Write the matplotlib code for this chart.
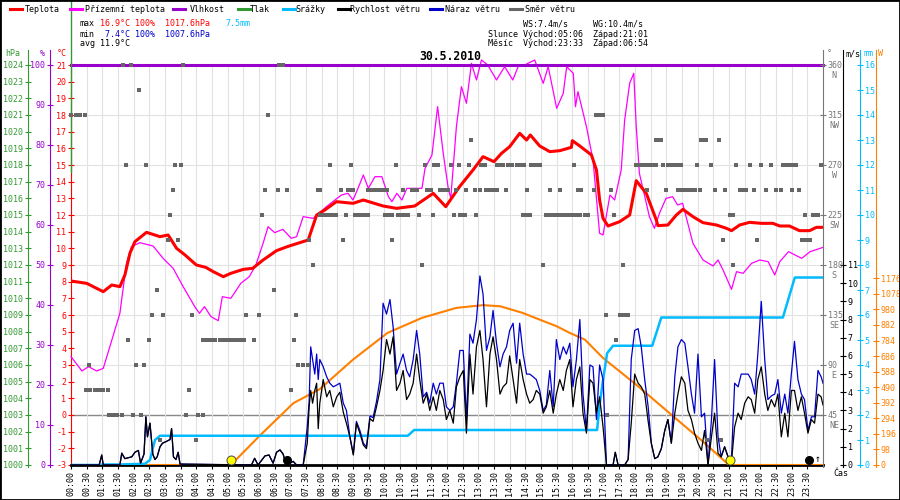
import numpy as np
import matplotlib
matplotlib.use("Agg")
import matplotlib.pyplot as plt
from matplotlib.lines import Line2D
from matplotlib.patches import Rectangle
import matplotlib.transforms as mtransforms

plt.rcParams['font.family'] = ['DejaVu Sans Mono']
plt.rcParams['font.size'] = 6
plt.rcParams['axes.unicode_minus'] = False

# ---------------- data (hours of the day) ----------------
temp_t = [0, 0.5, 1.03, 1.3, 1.56, 1.72, 1.88, 2.04, 2.41, 2.84, 3.1, 3.37, 3.64, 4.0, 4.3,
          4.54, 4.86, 5.1, 5.5, 5.8, 6.13, 6.56, 6.9, 7.3, 7.57, 7.84, 8.1, 8.47, 9.0, 9.33,
          9.96, 10.39, 10.97, 11.56, 11.96, 12.4, 12.83, 13.15, 13.5, 13.74, 14.0, 14.32,
          14.54, 14.66, 14.96, 15.28, 15.6, 15.97, 16.0, 16.24, 16.61, 16.77, 16.87, 16.98,
          17.14, 17.51, 17.83, 18.04, 18.36, 18.68, 18.73, 19.05, 19.32, 19.53, 19.85, 20.17,
          20.6, 20.92, 21.08, 21.34, 21.66, 22.03, 22.4, 22.62, 22.93, 23.25, 23.57, 23.79, 24.0]
temp_v = [8.04, 7.9, 7.4, 7.8, 7.7, 8.4, 9.7, 10.4, 10.96, 10.7, 10.8, 10.0, 9.6, 9.0, 8.86,
          8.6, 8.3, 8.5, 8.74, 8.8, 9.3, 9.86, 10.1, 10.34, 10.5, 12.0, 12.3, 12.8, 12.7, 12.9,
          12.54, 12.4, 12.54, 13.3, 12.5, 13.7, 14.7, 15.5, 15.2, 15.7, 16.1, 16.9,
          16.5, 16.8, 16.14, 15.8, 15.86, 16.06, 16.46, 16.14, 15.6, 14.7, 12.9, 11.8,
          11.34, 11.6, 12.0, 14.06, 13.3, 11.7, 11.36, 11.4, 12.0, 12.34, 11.9, 11.54,
          11.4, 11.2, 11.06, 11.4, 11.56, 11.5, 11.5, 11.34, 11.34, 11.06, 11.06, 11.26, 11.26]

feel_t = [0, 0.35, 0.56, 0.82, 1.03, 1.24, 1.56, 1.77, 1.93, 2.2, 2.62, 2.94, 3.26, 3.58, 3.95,
          4.1, 4.26, 4.47, 4.7, 4.83, 5.1, 5.42, 5.69, 5.9, 6.13, 6.29, 6.5, 6.76, 7.03, 7.2,
          7.41, 7.73, 7.94, 8.15, 8.63, 8.84, 9.0, 9.16, 9.33, 9.49, 9.7, 9.92, 10.13, 10.24,
          10.4, 10.56, 10.72, 10.98, 11.2, 11.3, 11.52, 11.7, 11.88, 12.04, 12.12, 12.3, 12.46,
          12.62, 12.78, 12.94, 13.1, 13.3, 13.58, 13.84, 14.1, 14.27, 14.48, 14.8, 15.07, 15.23,
          15.5, 15.71, 15.82, 16.03, 16.1, 16.18, 16.45, 16.66, 16.87, 16.98, 17.2, 17.35, 17.56,
          17.67, 17.83, 17.96, 18.04, 18.14, 18.46, 18.62, 18.78, 18.99, 19.2, 19.36, 19.52,
          19.85, 20.17, 20.49, 20.65, 20.81, 21.08, 21.24, 21.45, 21.72, 21.98, 22.25, 22.46,
          22.62, 22.9, 23.32, 23.59, 23.91, 24.0]
feel_v = [3.5, 2.64, 2.9, 2.64, 2.8, 4.1, 6.1, 9.1, 10.1, 10.34, 10.14, 9.4, 8.8, 7.7, 6.5,
          6.1, 6.5, 5.9, 5.66, 7.1, 7.0, 7.9, 8.3, 9.0, 10.3, 11.3, 10.94, 11.14, 10.6, 10.7,
          11.9, 11.8, 12.14, 12.5, 13.2, 13.3, 12.9, 13.6, 14.4, 13.6, 14.3, 14.3, 13.1, 12.8,
          13.3, 12.9, 13.6, 13.6, 13.6, 14.8, 15.6, 18.5, 15.7, 13.6, 13.0, 17.3, 19.7,
          18.7, 21.1, 20.1, 21.3, 21.0, 20.1, 20.9, 20.1, 20.9, 21.0, 21.3, 19.9, 20.9,
          18.4, 19.3, 20.9, 20.5, 18.5, 19.4, 17.3, 15.3, 10.9, 10.8, 13.2, 12.9, 14.7,
          17.7, 19.9, 20.5, 17.3, 14.5, 11.9, 11.2, 12.1, 13.0, 13.1, 12.6, 12.7,
          10.3, 9.3, 8.94, 9.3, 8.7, 7.54, 8.6, 8.5, 9.1, 9.3, 9.2, 8.4,
          9.2, 9.8, 9.4, 9.8, 10.0, 10.06]

humid_t = [0, 24]
humid_v = [100, 100]

press_max = 1017.6
press_min = 1007.6

rain_t = [0, 0.95, 1.0, 1.56, 2.36, 2.52, 2.68, 2.84, 10.75, 10.95, 16.79, 16.87, 16.98,
          17.11, 17.3, 18.55, 18.84, 22.72, 23.1, 24.0]
rain_v = [0, 0, 0.02, 0.02, 0.05, 0.2, 1.0, 1.17, 1.17, 1.4, 1.4, 2.4, 3.4,
          4.47, 4.77, 4.77, 5.9, 5.9, 7.5, 7.5]

sun_t = [0, 5.1, 6.05, 7.1, 7.94, 9.0, 10.1, 11.2, 12.3, 13.15, 13.7, 14.4, 15.5, 15.92,
         16.4, 16.98, 18.04, 19.1, 20.17, 21.0, 24.0]
sun_v = [0, 0, 190, 390, 478, 664, 832, 927, 990, 1007, 1000, 959, 874, 832,
         790, 674, 506, 327, 147, 0, 0]

wind_t = [0.0, 0.9, 0.98, 1.03, 1.56, 1.62, 1.72, 1.94, 2.04, 2.15, 2.22, 2.33,
          2.39, 2.44, 2.52, 2.61, 2.68, 2.75, 2.84, 2.92, 3.05, 3.16, 3.21, 3.27, 3.35, 3.42,
          3.48, 5.76, 5.86, 5.97, 6.19, 6.32, 6.45, 6.56, 6.67, 6.77, 6.86, 6.99, 7.09, 7.2,
          7.41, 7.54, 7.6, 7.65, 7.71, 7.78, 7.84, 7.89,
          7.94, 8.05, 8.16, 8.26, 8.37, 8.48, 8.58, 8.69, 8.79, 8.90,
          9.01, 9.11, 9.22, 9.33, 9.43, 9.54, 9.64, 9.75, 9.86, 9.96,
          10.07, 10.18, 10.28, 10.39, 10.50, 10.60, 10.71, 10.81, 10.92, 11.03,
          11.13, 11.24, 11.35, 11.45, 11.56, 11.66, 11.77, 11.88, 11.98, 12.09,
          12.20, 12.30, 12.41, 12.52, 12.62, 12.73, 12.83, 12.94, 13.05, 13.15,
          13.26, 13.37, 13.47, 13.58, 13.69, 13.79, 13.90, 14.00, 14.11, 14.22,
          14.32, 14.43, 14.54, 14.64, 14.75, 14.85, 14.96, 15.07, 15.17, 15.28,
          15.39, 15.49, 15.60, 15.71, 15.81,
          15.92, 16.02, 16.13, 16.24, 16.34, 16.45, 16.56, 16.66, 16.77, 16.87, 16.98, 17.09,
          17.30, 17.37, 17.46, 17.67, 17.78, 17.88, 17.99, 18.10, 18.20, 18.31, 18.42, 18.52,
          18.63, 18.73, 18.84, 18.95, 19.05, 19.16, 19.27, 19.37, 19.48, 19.59, 19.69, 19.80,
          19.90, 20.01, 20.12, 20.22, 20.33, 20.44, 20.54, 20.65, 20.75, 20.86, 20.97, 21.07,
          21.18, 21.29, 21.39, 21.50, 21.61, 21.71, 21.82, 21.92, 22.03, 22.14, 22.24, 22.35,
          22.46, 22.56, 22.67, 22.78, 22.88, 22.99, 23.09, 23.20, 23.31, 23.41, 23.52, 23.63,
          23.73, 23.84, 23.94, 24.0]
wind_speed = [0, 0, 0.55, 0, 0, 0.65, 0.35, 0.45, 0.7, 0.8, 0.1, 0.6,
              2.65, 1.55, 2.3, 0.6, 0.3, 0.45, 1.0, 1.2, 1.3, 1.4, 2.0, 0.45, 0.3, 0.7,
              0.05, 0, 0.37, 0, 0.5, 0.55, 0.1, 0.7, 0.83, 0.6, 0.05, 0.1, 0.2, 0,
              0, 1.2, 3.2, 4.1, 3.4, 4.1, 4.5, 2.0,
              3.4, 4.7, 3.75, 4.1, 3.2, 3.75, 4.0, 2.9, 2.3, 1.55,
              0.55, 2.3, 1.75, 1.1, 0.9, 2.55, 2.4, 3.2, 4.1, 5.2,
              6.9, 6.1, 7.05, 4.1, 4.5, 5.2, 3.6, 3.9, 4.5, 6.1,
              4.7, 3.4, 3.9, 3.0, 3.75, 3.0, 4.1, 3.6, 2.5, 3.0,
              2.3, 4.3, 4.85, 5.2, 1.75, 6.1, 3.9, 6.5, 7.4, 5.8,
              3.2, 6.1, 7.05, 5.8, 3.9, 4.3, 4.5, 6.0, 4.7, 3.4,
              5.8, 4.7, 3.9, 3.4, 3.6, 4.1, 3.9, 2.85, 3.2, 4.1,
              2.85, 3.9, 4.7, 4.1, 5.2,
              5.8, 3.2, 4.7, 5.4, 2.85, 1.75, 4.7, 4.5, 2.85, 3.75, 2.1, 0,
              0, 0.7, 0, 0, 0.3, 2.3, 5.0, 4.5, 4.3, 3.9, 2.4, 1.2,
              0.35, 0.45, 0.9, 1.9, 2.5, 1.2, 2.85, 3.9, 4.85, 4.5, 3.0, 2.5,
              1.75, 1.2, 0.8, 1.9, 0, 1.55, 2.85, 0.65, 0.45, 1.0, 0.45, 0,
              2.1, 2.85, 2.5, 3.4, 3.75, 3.6, 2.85, 4.7, 5.4, 3.9, 3.0, 3.6,
              3.2, 3.9, 1.55, 2.85, 1.55, 4.1, 4.1, 3.0, 3.75, 2.85, 1.75, 2.5,
              2.3, 3.9, 3.75, 3.3]
wind_gust = [0, 0, 0.55, 0, 0, 0.65, 0.35, 0.45, 0.7, 0.8, 0.1, 0.6,
             2.65, 1.55, 2.3, 0.6, 0.3, 0.45, 1.0, 1.2, 1.3, 1.4, 2.0, 0.45, 0.3, 0.7,
             0.05, 0, 0.37, 0, 0.5, 0.55, 0.1, 0.7, 0.83, 0.6, 0.05, 0.1, 0.2, 0,
             0, 2.1, 3.5, 6.5, 5.8, 5.0, 6.1, 4.7,
             5.8, 5.4, 4.85, 4.5, 4.3, 4.4, 4.5, 3.4, 3.0, 1.55,
             0.6, 2.4, 1.9, 1.2, 1.0, 2.7, 2.6, 3.5, 4.7, 8.9,
             8.3, 9.1, 7.6, 5.0, 5.6, 6.1, 5.2, 4.85, 5.8, 7.4,
             6.1, 3.75, 4.0, 3.4, 4.5, 3.9, 4.5, 4.5, 3.2, 3.0,
             3.2, 4.5, 6.3, 6.3, 2.5, 7.2, 6.7, 8.0, 10.4, 9.4,
             6.3, 7.05, 8.5, 6.7, 5.4, 6.1, 6.5, 7.4, 7.8, 5.6,
             7.8, 6.1, 5.0, 5.0, 4.85, 4.7, 4.1, 3.0, 3.3, 5.2,
             3.2, 6.9, 5.8, 6.5, 6.1,
             6.7, 4.3, 5.8, 8.0, 3.9, 1.9, 5.5, 5.4, 2.5, 5.5, 4.7, 0,
             0, 0.7, 0, 0, 0.3, 5.8, 7.4, 7.5, 6.5, 4.7, 3.2, 1.2,
             0.35, 0.45, 0.9, 1.9, 2.5, 1.2, 4.85, 6.5, 6.9, 6.7, 5.4, 3.9,
             2.85, 6.1, 2.65, 2.85, 0, 2.5, 5.8, 1.55, 0.45, 1.0, 0.45, 0,
             4.5, 4.3, 5.0, 5.0, 5.0, 4.7, 3.9, 6.1, 9.0, 5.8, 3.6, 3.8,
             3.9, 4.7, 2.85, 3.9, 2.85, 5.0, 6.8, 4.7, 3.9, 3.6, 1.9, 2.65,
             2.65, 5.2, 4.85, 4.5]

# wind direction samples, hours per compass sector
dir_N = [1.65, 1.90, 3.56, 6.65, 6.78]
dir_NNW = [2.17]
dir_NW = [0.0, 0.15, 0.30, 0.45, 6.30, 16.77, 16.87, 16.98]
dir_WNW = [12.78, 18.68, 18.78, 18.84, 20.12, 20.20, 20.28, 20.67]
dir_W = [1.75, 2.40, 3.32, 3.51, 8.26, 8.93, 10.37, 11.29, 11.60, 11.70, 12.12, 12.39, 12.70,
         13.10, 13.20, 13.58, 13.69, 13.79, 13.95, 14.06, 14.22, 14.35, 14.45, 14.68, 14.78,
         14.88, 14.98, 16.04, 18.04, 18.15, 18.25, 18.36, 18.47, 18.57, 18.68, 18.89, 19.05,
         19.16, 19.27, 19.37, 19.48, 19.98, 20.44, 21.23, 21.66, 22.03, 22.35, 22.72, 22.83,
         22.93, 23.04, 23.15, 23.95]
dir_WSW = [3.25, 6.19, 6.61, 6.88, 7.89, 7.94, 8.61, 8.84, 8.92, 9.0, 9.47, 9.58, 9.68, 9.79,
           9.90, 10.0, 10.10, 10.60, 10.87, 10.95, 11.04, 11.35, 11.50, 11.77, 11.88, 11.96,
           12.04, 12.30, 12.60, 12.89, 13.05, 13.26, 13.37, 13.47, 13.58, 13.87, 14.54, 15.28,
           15.62, 16.18, 16.29, 16.68, 17.22, 18.38, 18.98, 19.37, 19.48, 19.58, 19.69, 19.80,
           19.90, 20.06, 20.56, 20.88, 21.34, 21.45, 21.55, 21.79, 22.19, 22.51, 22.67, 23.0,
           23.23]
dir_SW = [3.16, 6.08, 7.94, 8.05, 8.16, 8.26, 8.37, 8.47, 8.77, 9.06, 9.17, 9.27, 9.37, 9.47,
          10.02, 10.12, 10.23, 10.43, 10.54, 10.65, 10.75, 11.10, 11.56, 12.22, 12.41, 12.49,
          12.57, 12.94, 14.43, 14.55, 14.66, 15.17, 15.28, 15.38, 15.49, 15.60, 15.70, 15.81,
          15.92, 16.03, 16.13, 16.24, 16.40, 16.50, 17.33, 21.02, 21.13, 23.41, 23.68, 23.76,
          23.84]
dir_SSW = [3.08, 3.40, 7.59, 8.67, 10.26, 20.81, 21.90, 23.34, 23.45, 23.57]
dir_S = [7.73, 11.19, 15.07, 17.62, 21.13]
dir_SSE = [2.75, 6.47]
dir_SE = [2.60, 2.94, 3.86, 5.58, 6.00, 7.18, 17.07, 17.51, 17.62, 17.72, 17.78]
dir_ESE = [1.83, 2.49, 4.22, 4.35, 4.48, 4.61, 4.74, 4.87, 5.0, 5.13, 5.26, 5.39, 5.52, 5.84,
           7.11, 17.38]
dir_E = [0.57, 2.07, 2.33, 7.25, 7.40, 7.57]
dir_ENE = [0.48, 0.61, 0.75, 0.89, 1.03, 1.17, 3.76, 5.71, 7.02]
dir_NE = [1.22, 1.35, 1.48, 1.62, 1.99, 2.23, 3.67, 4.06, 4.22, 17.12]
dir_NNE = [2.84, 3.99, 20.30, 20.73]

sunrise, sunset = 5.1, 21.02
moonrise, moonset = 23.55, 6.9

time_labels = [f"{i // 2:02d}:{(i % 2) * 30:02d}" for i in range(48)]

# ---------------- colours ----------------
RED = '#ff0000'
MAGENTA = '#ff00ff'
PURPLE = '#9900cc'
GREEN = '#339933'
CYAN = '#00bbff'
BLUE = '#0000cc'
GRAY = '#666666'
ORANGE = '#ff8000'

# ---------------- figure ----------------
fig = plt.figure(figsize=(9, 5), dpi=100)
L, R, T, B = 71, 823, 65, 465
AW = R - L


def fx(x):
    return x / 900


def fy(y):
    return 1 - y / 500


ax = fig.add_axes([fx(L), fy(B), AW / 900, (B - T) / 500])
ax.set_xlim(0, 24)
ax.set_ylim(-3, 21)
ax.set_xticks(np.arange(0, 24, 0.5))
ax.set_xticklabels(time_labels, rotation=90)
ax.tick_params(axis='x', direction='out', length=3, width=0.8, pad=1.5, labelsize=6)
ax.grid(axis='x', color='#e2e2e2', lw=0.8, zorder=0)
for v in range(3, 21, 3):
    ax.axhline(v, color='#e2e2e2', lw=0.8, zorder=0.5)
ax.axhline(0, color='#888888', lw=1, zorder=0.6)
for s in ['top', 'right']:
    ax.spines[s].set_visible(False)
ax.spines['bottom'].set_linewidth(2)
ax.spines['left'].set_color(RED)
ax.spines['left'].set_bounds(-3, 21 + 24 * 3 / 400)
ax.set_yticks(range(-3, 22))
ax.tick_params(axis='y', direction='inout', length=4, width=0.8, colors=RED, pad=1.5)


def side_axis(side, offset_px, color, lo, hi, ticks, labels=None):
    tw = ax.twinx()
    tw.set_ylim(lo, hi)
    for s in tw.spines.values():
        s.set_visible(False)
    sp = tw.spines[side]
    sp.set_visible(True)
    sp.set_color(color)
    frac = offset_px / AW
    sp.set_position(('axes', -frac if side == 'left' else 1 + frac))
    sp.set_bounds(lo - (hi - lo) * 2 / 400, hi + (hi - lo) * 15 / 400)
    if side == 'left':
        tw.yaxis.tick_left()
    else:
        tw.yaxis.tick_right()
    tw.set_yticks(ticks)
    if labels is not None:
        tw.set_yticklabels(labels)
    tw.tick_params(axis='y', direction='inout', length=4, width=0.8, colors=color,
                   pad=1.5, labelsize=6)
    tw.set_xlim(0, 24)
    return tw


ax_sun = side_axis('right', 53, ORANGE, 0, 2520, [98 * i for i in range(13)])
ax_rain = side_axis('right', 37, CYAN, 0, 16, range(0, 17))
ax_ws = side_axis('right', 20, 'black', 0, 22, range(0, 12))

ax_sun.plot(sun_t, sun_v, color=ORANGE, lw=1.5)
ax_rain.plot(rain_t, rain_v, color=CYAN, lw=1.8)
ax_ws.plot(wind_t, wind_gust, color=BLUE, lw=0.9)
ax_ws.plot(wind_t, wind_speed, color='black', lw=0.9)

up5 = mtransforms.offset_copy(ax_ws.transData, fig=fig, y=5, units='dots')
ax_ws.plot([sunrise, sunset], [0, 0], 'o', ms=6.5, mfc='#ffff00', mec='#444444', mew=0.7,
           transform=up5, clip_on=False)
ax_ws.plot([moonset, moonrise], [0, 0], 'o', ms=5.5, color='black', transform=up5,
           clip_on=False)
ax_ws.text(moonrise, 0, "\u2191", transform=mtransforms.offset_copy(
    ax_ws.transData, fig=fig, x=6, y=1, units='dots'), ha='left', va='bottom', fontsize=7)

# temperatures on their own layer
ax_t = ax.twinx()
ax_t.set_ylim(-3, 21)
ax_t.axis('off')
ax_t.plot(feel_t, feel_v, color=MAGENTA, lw=0.9, clip_on=False)
ax_t.plot(temp_t, temp_v, color=RED, lw=2.2)

ax_h = side_axis('left', 21, PURPLE, 0, 100, range(0, 101, 10))
ax_h.plot(humid_t, humid_v, color=PURPLE, lw=2.2, clip_on=False)

ax_p = side_axis('left', 43, GREEN, 1000, 1024, range(1000, 1025))
ax_p.plot([0, 0], [press_max, 1024 + 24 * 65 / 400], color=GREEN, lw=1, clip_on=False)

ax_d = side_axis('right', 0, '#777777', 0, 360, range(45, 361, 45))
compass = [('N', 360), ('NW', 315), ('W', 270), ('SW', 225), ('S', 180), ('SE', 135),
           ('E', 90), ('NE', 45)]
for name, deg in compass:
    ax_d.annotate(name, xy=(1, deg), xycoords=ax_d.get_yaxis_transform(),
                  xytext=(11, -11), textcoords='offset pixels', ha='center', va='center',
                  color='#777777', fontsize=6)
sectors = [(360, dir_N), (337.5, dir_NNW), (315, dir_NW), (292.5, dir_WNW), (270, dir_W),
           (247.5, dir_WSW), (225, dir_SW), (202.5, dir_SSW), (180, dir_S), (157.5, dir_SSE),
           (135, dir_SE), (112.5, dir_ESE), (90, dir_E), (67.5, dir_ENE), (45, dir_NE),
           (22.5, dir_NNE)]
for deg, times in sectors:
    ax_d.plot(times, [deg] * len(times), 's', ms=3.3, color=GRAY, mew=0, clip_on=False)

# axis captions
for x, txt, col in [(5, 'hPa', GREEN), (40, '%', PURPLE), (57, '°C', RED),
                    (827, '°', '#777777'), (845, 'm/s', 'black'), (863, 'mm', CYAN),
                    (878, 'W', ORANGE)]:
    fig.text(fx(x), fy(54), txt, color=col, ha='left', va='center', fontsize=6)
fig.text(fx(833), fy(473), 'Čas', ha='left', va='center', fontsize=6)

# legend row
legend = [('Teplota', RED), ('Přízemní teplota', MAGENTA), ('Vlhkost', PURPLE),
          ('Tlak', GREEN), ('Srážky', CYAN), ('Rychlost větru', 'black'),
          ('Náraz větru', BLUE), ('Směr větru', GRAY)]
line_x = [10, 70, 173, 238, 283, 338, 430, 510]
text_x = [25, 85, 190, 250, 295, 350, 445, 525]
for (name, col), lx, tx in zip(legend, line_x, text_x):
    fig.add_artist(Line2D([fx(lx), fx(lx + 12)], [fy(9), fy(9)], color=col, lw=2.2))
    fig.text(fx(tx), fy(9), name, ha='left', va='center', fontsize=6)


def put(x, y, txt, col='black', **kw):
    fig.text(fx(x), fy(y), txt, color=col, ha='left', va='center', fontsize=6, **kw)


cw = 5.0
put(80, 24, 'max')
put(80 + 4 * cw, 24, '16.9°C 100%', RED)
put(80 + 17 * cw, 24, f'{press_max}hPa', RED)
put(80 + 29 * cw, 24, '7.5mm', CYAN)
put(80, 34, 'min')
put(80 + 5 * cw, 34, '7.4°C 100%', BLUE)
put(80 + 17 * cw, 34, f'{press_min}hPa', BLUE)
put(80, 44, 'avg 11.9°C')
put(488 + 7 * cw, 24, 'WS:7.4m/s')
put(488 + 21 * cw, 24, 'WG:10.4m/s')
put(488, 34, 'Slunce Východ:05:06  Západ:21:01')
put(488, 44, 'Měsíc  Východ:23:33  Západ:06:54')

fig.text(fx(450), fy(57), '30.5.2010', ha='center', va='center', fontsize=8.3,
         fontweight='bold')

fig.add_artist(Rectangle((0, 0), 1, 1, transform=fig.transFigure, fill=False,
                         ec='black', lw=2))

fig.savefig('out.png', dpi=100)
